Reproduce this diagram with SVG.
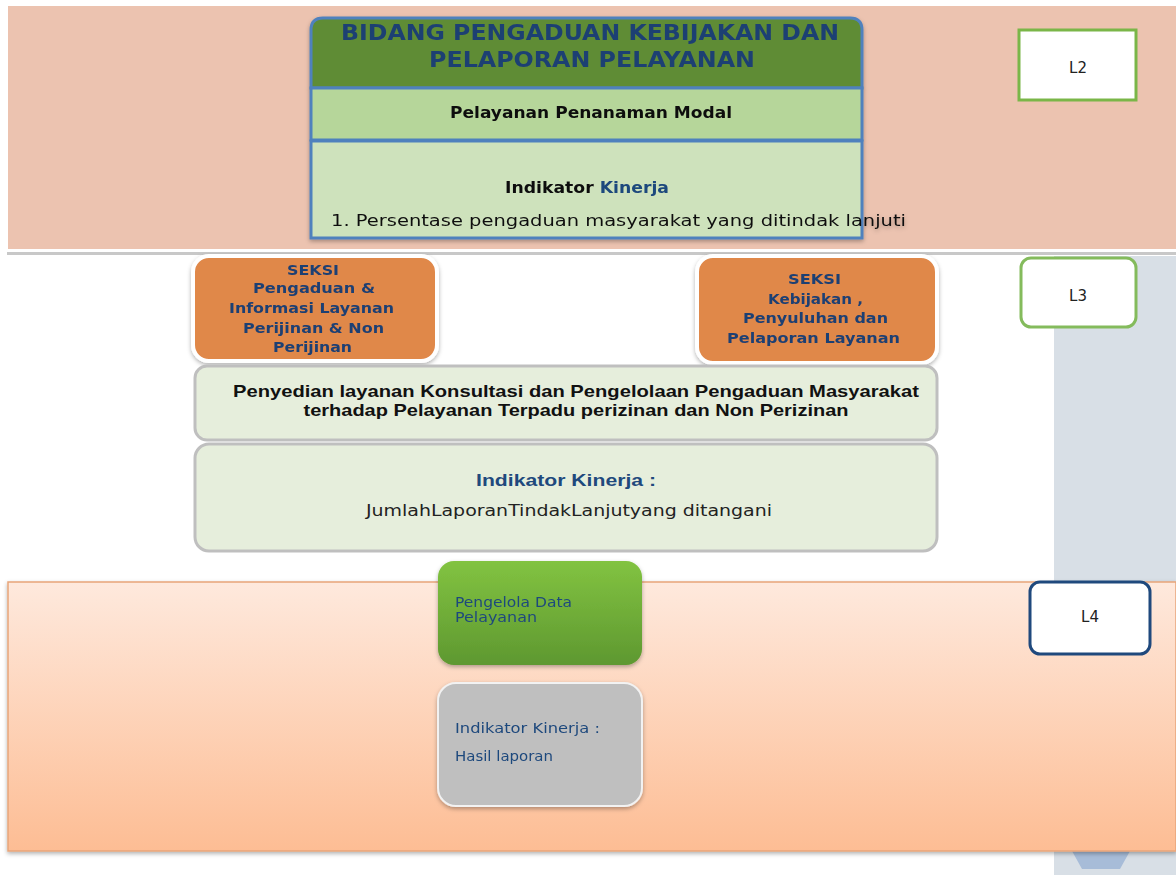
<svg xmlns="http://www.w3.org/2000/svg" width="1176" height="875" viewBox="0 0 1176 875">
<defs>
<linearGradient id="gBand" x1="0" y1="0" x2="0" y2="1"><stop offset="0" stop-color="#FEE9DD"/><stop offset="1" stop-color="#FDBD94"/></linearGradient>
<linearGradient id="gGreen" x1="0" y1="0" x2="0" y2="1"><stop offset="0" stop-color="#82C341"/><stop offset="1" stop-color="#5E9830"/></linearGradient>
<filter id="sh" x="-10%" y="-10%" width="120%" height="130%"><feDropShadow dx="0" dy="2" stdDeviation="2" flood-color="#000" flood-opacity="0.3"/></filter>
<style>
.t{font-family:"Liberation Sans",Arial,sans-serif}
.v{font-family:"DejaVu Sans","Verdana",sans-serif}
.navy{fill:#1F3F73}
.sk{font-family:"DejaVu Sans Condensed","DejaVu Sans",sans-serif;font-size:14px;font-weight:bold;fill:#1F3F73}
.lbl{font-family:"DejaVu Sans",sans-serif;font-size:15px;fill:#222;text-anchor:middle}
</style>
</defs>
<rect width="1176" height="875" fill="#fff"/>
<!-- background bands -->
<rect x="8" y="6" width="1168" height="243" fill="#ECC3B0"/>
<rect x="1054" y="256" width="122" height="619" fill="#D8DFE6"/>
<rect x="7" y="252" width="1169" height="3" fill="#C8C8C8"/>
<polygon points="1072,851 1130,851 1120,869 1082,869" fill="#A7BCD8"/>
<rect x="8" y="582" width="1168" height="269" fill="url(#gBand)" stroke="#E7A57A" stroke-width="1.5" filter="url(#sh)"/>

<!-- Main box -->
<g id="bidang" filter="url(#sh)">
<path d="M311,88 V30 Q311,18 323,18 H850 Q862,18 862,30 V88 Z" fill="#5F8C36" stroke="#4F81BD" stroke-width="3"/>
<rect x="311" y="88" width="551" height="52" fill="#B6D69A" stroke="#4F81BD" stroke-width="3"/>
<rect x="311" y="141" width="551" height="97" fill="#CEE2BC" stroke="#4F81BD" stroke-width="3"/>
<text class="v navy" x="590" y="40" font-size="21" font-weight="bold" text-anchor="middle" textLength="498" lengthAdjust="spacingAndGlyphs">BIDANG PENGADUAN KEBIJAKAN DAN</text>
<text class="v navy" x="592" y="67" font-size="21" font-weight="bold" text-anchor="middle" textLength="326" lengthAdjust="spacingAndGlyphs">PELAPORAN PELAYANAN</text>
<text class="v" x="591" y="118" font-size="16" font-weight="bold" text-anchor="middle" fill="#111" textLength="282" lengthAdjust="spacingAndGlyphs">Pelayanan Penanaman Modal</text>
<text class="v" x="587" y="193" font-size="16" font-weight="bold" text-anchor="middle" fill="#111" textLength="164" lengthAdjust="spacingAndGlyphs">Indikator <tspan fill="#1F497D">Kinerja</tspan></text>
<text class="v" x="331" y="226" font-size="16" fill="#111" textLength="575" lengthAdjust="spacingAndGlyphs">1. Persentase pengaduan masyarakat yang ditindak lanjuti</text>
</g>

<!-- Level labels -->
<g id="L2"><rect x="1019" y="30" width="117" height="70" fill="#fff" stroke="#7AB648" stroke-width="3"/><text class="lbl" x="1078" y="73">L2</text></g>
<g id="L3"><rect x="1021" y="258" width="115" height="69" rx="10" fill="#fff" stroke="#84BB5C" stroke-width="3"/><text class="lbl" x="1078" y="301">L3</text></g>
<g id="L4"><rect x="1030" y="582" width="120" height="72" rx="10" fill="#fff" stroke="#1F497D" stroke-width="3"/><text class="lbl" x="1090" y="622">L4</text></g>

<!-- SEKSI boxes -->
<g id="seksi1" filter="url(#sh)">
<rect x="193" y="256" width="244" height="105" rx="16" fill="#E0884A" stroke="#fff" stroke-width="4"/>
<text class="sk" x="287" y="275" textLength="52" lengthAdjust="spacingAndGlyphs">SEKSI</text>
<text class="sk" x="253" y="293" textLength="122" lengthAdjust="spacingAndGlyphs">Pengaduan &amp;</text>
<text class="sk" x="229" y="313" textLength="165" lengthAdjust="spacingAndGlyphs">Informasi Layanan</text>
<text class="sk" x="243" y="333" textLength="141" lengthAdjust="spacingAndGlyphs">Perijinan &amp; Non</text>
<text class="sk" x="273" y="352" textLength="79" lengthAdjust="spacingAndGlyphs">Perijinan</text>
</g>
<g id="seksi2" filter="url(#sh)">
<rect x="697" y="256" width="240" height="107" rx="16" fill="#E0884A" stroke="#fff" stroke-width="4"/>
<text class="sk" x="788" y="284" textLength="53" lengthAdjust="spacingAndGlyphs">SEKSI</text>
<text class="sk" x="768" y="304" textLength="95" lengthAdjust="spacingAndGlyphs">Kebijakan ,</text>
<text class="sk" x="743" y="323" textLength="145" lengthAdjust="spacingAndGlyphs">Penyuluhan dan</text>
<text class="sk" x="727" y="343" textLength="173" lengthAdjust="spacingAndGlyphs">Pelaporan  Layanan</text>
</g>

<!-- program box -->
<g id="program">
<rect x="195" y="366" width="742" height="74" rx="12" fill="#E6EEDC" stroke="#BFBFBF" stroke-width="3"/>
<text class="t" x="576" y="397" font-size="17" font-weight="bold" text-anchor="middle" fill="#111" textLength="686" lengthAdjust="spacingAndGlyphs">Penyedian layanan Konsultasi dan Pengelolaan Pengaduan Masyarakat</text>
<text class="t" x="576" y="416" font-size="17" font-weight="bold" text-anchor="middle" fill="#111" textLength="545" lengthAdjust="spacingAndGlyphs">terhadap Pelayanan Terpadu perizinan dan Non Perizinan</text>
</g>
<g id="indikator3">
<rect x="195" y="444" width="742" height="107" rx="14" fill="#E6EEDC" stroke="#BFBFBF" stroke-width="3"/>
<text class="t" x="566" y="486" font-size="17" font-weight="bold" text-anchor="middle" fill="#1F497D" textLength="180" lengthAdjust="spacingAndGlyphs">Indikator Kinerja :</text>
<text class="v" x="569" y="516" font-size="16" text-anchor="middle" fill="#222" textLength="406" lengthAdjust="spacingAndGlyphs">JumlahLaporanTindakLanjutyang ditangani</text>
</g>

<!-- L4 boxes -->
<g id="pengelola" filter="url(#sh)">
<rect x="438" y="561" width="204" height="104" rx="16" fill="url(#gGreen)"/>
<text class="v" x="455" y="607" font-size="13.5" fill="#1F497D" textLength="117" lengthAdjust="spacingAndGlyphs">Pengelola Data</text>
<text class="v" x="455" y="622" font-size="13.5" fill="#1F497D" textLength="82" lengthAdjust="spacingAndGlyphs">Pelayanan</text>
</g>
<g id="indikator4" filter="url(#sh)">
<rect x="438" y="683" width="204" height="123" rx="18" fill="#BFBFBF" stroke="#F2F2F2" stroke-width="2"/>
<text class="v" x="455" y="733" font-size="14" fill="#1F497D" textLength="145" lengthAdjust="spacingAndGlyphs">Indikator Kinerja :</text>
<text class="v" x="455" y="761" font-size="14" fill="#1F497D" textLength="98" lengthAdjust="spacingAndGlyphs">Hasil laporan</text>
</g>
<g id="connectors"/>
</svg>
